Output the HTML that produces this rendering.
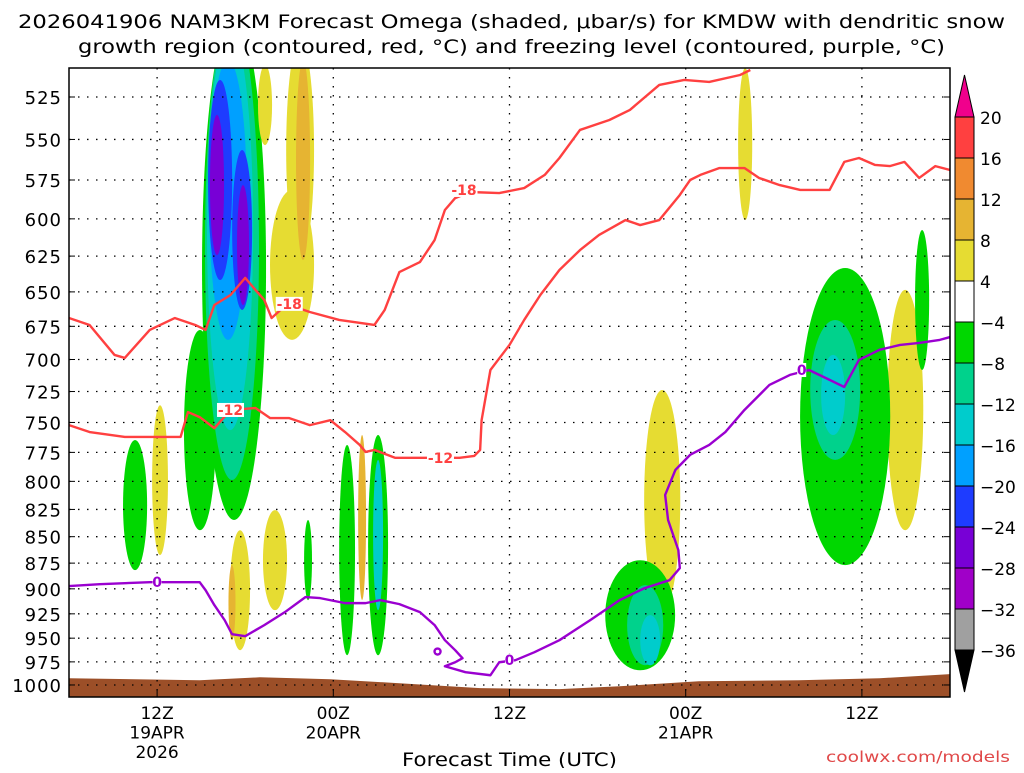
<!DOCTYPE html>
<html><head><meta charset="utf-8"><style>
body{margin:0;background:#fff;width:1024px;height:768px;overflow:hidden}
svg{font-family:"DejaVu Sans","Liberation Sans",sans-serif}
</style></head><body>
<svg id="chart" width="1024" height="768" xmlns="http://www.w3.org/2000/svg">
<text x="18" y="28" font-size="19" textLength="987" lengthAdjust="spacingAndGlyphs">2026041906 NAM3KM Forecast Omega (shaded, μbar/s) for KMDW with dendritic snow</text>
<text x="78" y="53" font-size="19" textLength="867" lengthAdjust="spacingAndGlyphs">growth region (contoured, red, °C) and freezing level (contoured, purple, °C)</text>
<g id="plot"></g>
<text x="402" y="766" font-size="19" textLength="215" lengthAdjust="spacingAndGlyphs">Forecast Time (UTC)</text>
<text x="826" y="762" font-size="15" fill="#e04848" textLength="184" lengthAdjust="spacingAndGlyphs">coolwx.com/models</text>
</svg>
<script>
const pressureTicks=[525,550,575,600,625,650,675,700,725,750,775,800,825,850,875,900,925,950,975,1000];
const timeTicksHours=[6,18,30,42,54];
const timeTickLabels=[["12Z","19APR","2026"],["00Z","20APR"],["12Z"],["00Z","21APR"],["12Z"]];
const cbarLevels=["20","16","12","8","4","-4","-8","-12","-16","-20","-24","-28","-32","-36"];
const cbarColors=["#ff4040","#f08a30","#e6b432","#e6dc32","#ffffff","#00d700","#00d28c","#00cccc","#00a0ff","#1e3cff","#7800d6","#a000c8","#a0a0a0"];
// omega blobs: [centerHour, halfWidthHours, topPressure, bottomPressure, colorIndex]
const omegaBlobs=[
[11.24,2.18,480,834.6,5],[8.92,1.09,677.7,844,5],[11.1,1.84,480,798.8,6],[10.97,1.57,487.8,756.3,7],[10.83,1.29,504.2,685.1,8],
[10.29,0.82,515.3,641.6,9],[11.79,0.68,556.4,663,9],[10.08,0.48,535.4,624.3,10],[11.85,0.41,578.2,659.4,10],
[13.35,0.48,506.9,553.4,3],[15.74,0.95,493.2,627.6,3],[15.19,1.5,581.3,685.1,3],[15.94,0.48,504.2,627.6,2],
[6.2,0.54,736,867.3,3],[11.65,0.68,844,962.6,3],[14.03,0.82,825.6,921.3,3],[11.1,0.24,876.9,952.1,2],
[46.05,0.48,508.6,600.8,3],[40.4,1.23,723.8,921.3,3],[56.95,1.23,648.6,844,3],[19.96,0.27,760.4,911.2,2],
[4.5,0.82,764.5,881.7,5],[18.94,0.54,768.7,967.9,5],[21.05,0.68,760.4,967.9,5],[21.05,0.34,781.4,921.3,7],[16.28,0.27,834.6,911.2,5],
[38.9,2.38,872.2,984,5],[39.24,1.23,896.3,978.6,6],[39.58,0.68,926.3,978.6,7],
[52.86,3.07,633.2,876.9,5],[52.18,1.7,670.3,781.4,6],[52.04,0.82,696.5,760.4,7],[58.1,0.48,607.4,708.1,5]
];
const red18H=[0,1.4,3.1,3.8,5.5,7.2,8.6,9.3,9.9,11,12,12.7,13.3,13.8,14.4,15,16.4,18.4,20.8,21.5,22.5,23.9,24.9,25.6,26.3,27.3,29.3,31,32.4,33.4,34.8,36.8,38.2,40.2,41.9,43.6,45.7,46.4];
const red18P=[668.9,674,696.5,698.8,677.7,668.9,674,677.7,659.4,652.2,640.1,648.6,655.8,668.9,663,659.4,664.5,670.3,674,663,636,629.1,614.1,594.2,586.5,582.6,583.3,580.1,571.8,561.3,544.3,538.4,532.5,518.1,515.3,516.4,512.5,509.7];
const red12H=[0,1.4,3.8,6.2,7.6,8.1,8.9,9.9,11,12.7,13.7,15,16.4,17.8,18.8,19.8,20.2,20.8,22.2,24.6,26.6,27.6,28,28.1,28.7,30,31,32.1,33.4,34.8,36.1,37.9,38.9,40.2,41.6,42.3,43,44.3,46,47,48.4,49.8,51.8,52.8,53.8,54.9,55.9,56.9,57.9,59,60];
const red12P=[752.2,757.9,762,762,762,741.5,745.6,754.7,739.8,738.2,746.4,746.4,752.2,748.1,757.9,768.7,774.6,772.9,779.6,779.6,779.6,778,772.9,748.1,708.1,688.9,670.3,652.2,634.6,620.9,610.7,600.8,604.1,600.8,584.5,575,571.8,567.5,567.5,573.7,578.2,581.3,581.3,563.7,561.3,565.6,566.3,563.7,573.7,566.3,568.7];
const frzH=[0,2.1,5.5,8.9,9.3,9.9,10.6,11.1,12,13.3,14.7,16.1,17.1,18.8,20.2,21.2,22.5,23.9,24.9,25.6,26.3,26.8,26.3,25.6,27,28.7,29.3,30.4,31.7,33.4,35.5,37.5,39.2,40.9,41.6,41.5,40.8,40.6,41.3,42.3,43.6,44.7,46,47.7,49.1,50.4,51.8,52.8,53.8,55.2,56.6,57.9,59.3,60];
const frzP=[897.3,895.4,893.5,893.5,901.3,916.2,931.4,945.8,947.9,936.5,923.3,908.2,909.2,914.2,914.2,911.2,915.2,923.3,936.5,952.1,962.6,971.1,975.4,979.7,986.1,989.4,975.4,973.2,964.7,952.1,931.4,911.2,899.3,891.5,879.8,862.6,834.6,812,790,777.1,768.7,757.9,739.8,719.8,711.9,708.1,715.8,721.4,700.3,692.6,688.9,687.4,685.1,683];
const terrainH=[0,8.9,13,17.8,22.5,28,33.4,37.5,42.9,49.7,55.2,60];
const terrainP=[992.7,994.8,991.6,993.7,998.1,1003.5,1004.6,1001.4,995.9,994.8,992.7,988.2];
const contourLabels=[[26.9,581.3,"-18"],[15,658.6,"-18"],[11,739.8,"-12"],[25.3,779.6,"-12"],[6,893.5,"0"],[30,973.2,"0"],[49.9,708.1,"0"]];

const X0=69,X1=950,Y0=68,Y1=697;
const x=h=>X0+h*14.6833;
const y=p=>97+912.5*Math.log(p/525);
const NS="http://www.w3.org/2000/svg";
const plot=document.getElementById('plot');
const svg=document.getElementById('chart');
function mk(tag,attrs,parent){const e=document.createElementNS(NS,tag);for(const k in attrs)e.setAttribute(k,attrs[k]);(parent||plot).appendChild(e);return e;}
const defs=mk('defs',{},svg);
const cp=mk('clipPath',{id:'clip'},defs);mk('rect',{x:X0,y:Y0,width:X1-X0,height:Y1-Y0},cp);
const g=mk('g',{'clip-path':'url(#clip)'});


omegaBlobs.forEach((b,i)=>{const yt=y(b[2]),yb=y(b[3]);
const e=mk('ellipse',{cx:x(b[0]),cy:(yt+yb)/2,rx:b[1]*14.6833,ry:(yb-yt)/2,fill:cbarColors[b[4]]},g);

});
let tp=terrainH.map((h,i)=>x(h)+','+y(terrainP[i])).join(' ')+' '+X1+','+Y1+' '+X0+','+Y1;
const terr=mk('polygon',{points:tp,fill:'#9c4f28'},g);


pressureTicks.forEach(p=>{const l=mk('line',{x1:X0,x2:X1,y1:y(p),y2:y(p),stroke:'#000','stroke-width':1.3,'stroke-dasharray':'1.5 7.5'},g);

});
timeTicksHours.forEach(h=>{const l=mk('line',{x1:x(h),x2:x(h),y1:Y0,y2:Y1,stroke:'#000','stroke-width':1.3,'stroke-dasharray':'1.5 7.5'},g);

});
function line(H,P,color,name){const l=mk('polyline',{points:H.map((h,i)=>x(h)+','+y(P[i])).join(' '),fill:'none',stroke:color,'stroke-width':2.4,'stroke-linejoin':'round'},g);

}
line(red18H,red18P,'#ff4040','contour-minus18');
line(red12H,red12P,'#ff4040','contour-minus12');
line(frzH,frzP,'#9a00d0','freezing-level-0c');
const circ=mk('ellipse',{cx:x(25.1),cy:y(964),rx:3,ry:3,fill:'none',stroke:'#9a00d0','stroke-width':2.4},g);


contourLabels.forEach(c=>{const col=c[2]=="0"?'#9a00d0':'#ff4040';
const w=c[2].length*9;
const r=mk('rect',{x:x(c[0])-w/2,y:y(c[1])-7,width:w,height:14,fill:'#fff'},g);


const t=mk('text',{x:x(c[0]),y:y(c[1])+5,'text-anchor':'middle','font-size':14,'font-weight':'bold',fill:col},g);t.textContent=c[2];

});
const fr=mk('rect',{x:X0,y:Y0,width:X1-X0,height:Y1-Y0,fill:'none',stroke:'#000','stroke-width':1.5});


pressureTicks.forEach(p=>{const s=String(p);const t=mk('text',{x:62,y:y(p)+7,'text-anchor':'end','font-size':18,'letter-spacing':'1'});t.textContent=s;


mk('line',{x1:X0,x2:X0+6,y1:y(p),y2:y(p),stroke:'#000'});mk('line',{x1:X1-6,x2:X1,y1:y(p),y2:y(p),stroke:'#000'});});
timeTicksHours.forEach((h,i)=>{timeTickLabels[i].forEach((s,j)=>{const t=mk('text',{x:x(h),y:719+j*19.5,'text-anchor':'middle','font-size':17});t.textContent=s;

});
mk('line',{x1:x(h),x2:x(h),y1:Y1-8,y2:Y1,stroke:'#000'});});
const CB=955,CW=19,cy0=117,step=41;
const cbg=mk('g',{},svg);


mk('polygon',{points:`${CB},${cy0} ${CB+CW},${cy0} ${CB+CW/2},${cy0-42}`,fill:'#f0008c',stroke:'#000'},cbg);
cbarColors.forEach((c,i)=>{mk('rect',{x:CB,y:cy0+i*step,width:CW,height:step,fill:c,stroke:'#000','stroke-width':1},cbg);});
mk('polygon',{points:`${CB},${cy0+13*step} ${CB+CW},${cy0+13*step} ${CB+CW/2},${cy0+13*step+42}`,fill:'#000',stroke:'#000'},cbg);
cbarLevels.forEach((s,i)=>{const t=mk('text',{x:980,y:cy0+i*step+7,'font-size':17},cbg);t.textContent=s.replace('-','−');

});
</script>
</body></html>
